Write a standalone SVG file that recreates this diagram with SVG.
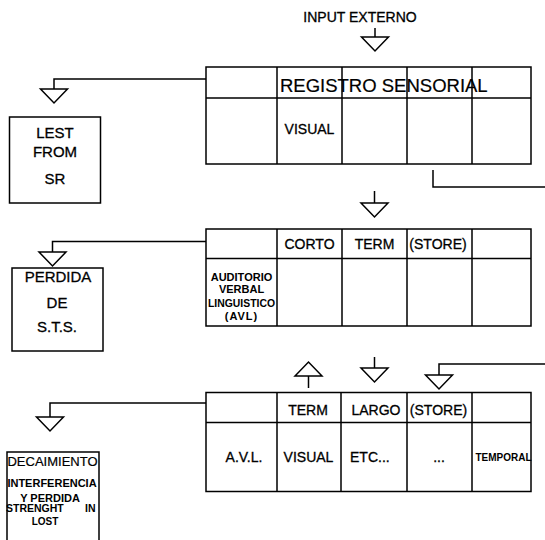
<svg xmlns="http://www.w3.org/2000/svg" width="545" height="540" viewBox="0 0 545 540">
<style>
text{font-family:"Liberation Sans",Arial,sans-serif;fill:#000}
.t14{font-size:14px;stroke:#000;stroke-width:0.3}
.t15{font-size:15px;stroke:#000;stroke-width:0.3}
.b11{font-size:11px;font-weight:bold}
.box{fill:#fff;stroke:#000;stroke-width:1.5}
.ln{fill:none;stroke:#000;stroke-width:1.5}
.con{fill:none;stroke:#000;stroke-width:1.5;marker-end:url(#tri)}
</style>
<defs>
<marker id="tri" markerUnits="userSpaceOnUse" viewBox="-1 -15 17 30" markerWidth="17" markerHeight="30" refX="0" refY="0" orient="auto" overflow="visible">
<path d="M0,-13.5 L14,0 L0,13.5 Z" fill="#fff" stroke="#000" stroke-width="1.5"/>
</marker>
</defs>
<rect width="545" height="540" fill="#fff"/>

<g id="input">
<text class="t14" x="360" y="22" text-anchor="middle">INPUT EXTERNO</text>
</g>

<g id="registro-sensorial">
<rect class="box" x="206" y="67" width="325" height="97"/>
<path class="ln" d="M206,98H531M277,67V164M342,67V164M407,67V164M472,67V164"/>
<text x="280" y="91.5" font-size="18.5" stroke="#000" stroke-width="0.2">REGISTRO SENSORIAL</text>
<text class="t14" x="309.5" y="134" text-anchor="middle">VISUAL</text>
</g>

<g id="corto-term">
<rect class="box" x="206" y="229" width="325" height="97"/>
<path class="ln" d="M206,258.5H531M277,229V326M342,229V326M407,229V326M472,229V326"/>
<text class="t14" x="309.5" y="249" text-anchor="middle">CORTO</text>
<text class="t14" x="374.5" y="249" text-anchor="middle">TERM</text>
<text class="t14" x="438" y="249" text-anchor="middle">(STORE)</text>
<text class="b11" x="241.5" y="281" text-anchor="middle">AUDITORIO</text>
<text class="b11" x="241.5" y="292.7" text-anchor="middle">VERBAL</text>
<text class="b11" x="241.5" y="306.7" text-anchor="middle" textLength="67" lengthAdjust="spacingAndGlyphs">LINGUISTICO</text>
<text class="b11" x="241.5" y="320" text-anchor="middle" letter-spacing="1">(AVL)</text>
</g>

<g id="largo-term">
<rect class="box" x="206" y="392.5" width="325" height="99"/>
<path class="ln" d="M206,422.5H531M277,392.5V491.5M341,392.5V491.5M407,392.5V491.5M472,392.5V491.5"/>
<text class="t14" x="308" y="415" text-anchor="middle">TERM</text>
<text class="t14" x="376" y="415" text-anchor="middle">LARGO</text>
<text class="t14" x="438.5" y="415" text-anchor="middle">(STORE)</text>
<text class="t14" x="244" y="461.5" text-anchor="middle">A.V.L.</text>
<text class="t14" x="308.5" y="461.5" text-anchor="middle">VISUAL</text>
<text class="t14" x="350" y="461.5">ETC...</text>
<text class="t14" x="439" y="461.5" text-anchor="middle">...</text>
<text x="475.5" y="461" font-size="10" font-weight="bold" textLength="56" lengthAdjust="spacingAndGlyphs">TEMPORAL</text>
</g>

<g id="lest-from-sr">
<rect class="box" x="9.5" y="117" width="91" height="86"/>
<text class="t15" x="55" y="138" text-anchor="middle">LEST</text>
<text class="t15" x="55" y="157" text-anchor="middle">FROM</text>
<text class="t15" x="55" y="184" text-anchor="middle">SR</text>
</g>

<g id="perdida-sts">
<rect class="box" x="12" y="268" width="91" height="83"/>
<text class="t15" x="58" y="281.7" text-anchor="middle">PERDIDA</text>
<text class="t15" x="57" y="308" text-anchor="middle">DE</text>
<text class="t15" x="57" y="332" text-anchor="middle">S.T.S.</text>
</g>

<g id="decaimiento">
<path class="ln" d="M7,540V452H99V540"/>
<text x="52.5" y="465.7" font-size="13" text-anchor="middle" stroke="#000" stroke-width="0.2">DECAIMIENTO</text>
<text class="b11" x="52" y="487.3" text-anchor="middle">INTERFERENCIA</text>
<text class="b11" x="50" y="501.7" text-anchor="middle">Y PERDIDA</text>
<text x="6" y="512.3" font-size="10.5" font-weight="bold">STRENGHT<tspan x="85">IN</tspan></text>
<text x="45" y="525" font-size="10" font-weight="bold" text-anchor="middle">LOST</text>
</g>

<g id="connectors">
<path class="con" d="M375,28V37"/>
<path class="con" d="M206,79H54V89"/>
<path class="ln" d="M433,170V187H545"/>
<path class="con" d="M374.5,191V203"/>
<path class="con" d="M206,241.5H52.5V252"/>
<path class="con" d="M308.5,388V376"/>
<path class="con" d="M374.5,357V368"/>
<path class="con" d="M545,364H439V375"/>
<path class="con" d="M206,403H50V417"/>
</g>
</svg>
